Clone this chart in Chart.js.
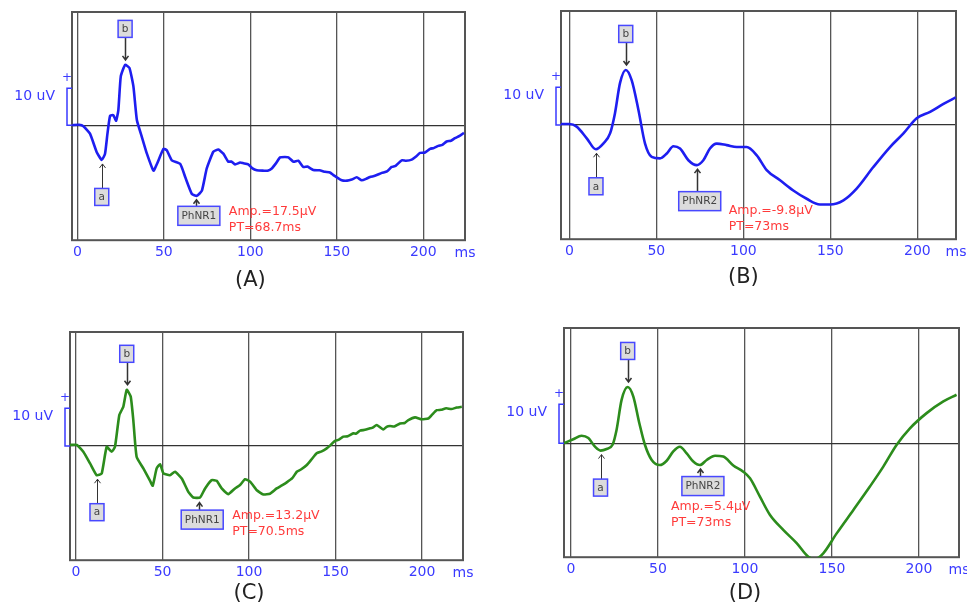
<!DOCTYPE html>
<html>
<head>
<meta charset="utf-8">
<script src="https://cdn.jsdelivr.net/npm/chart.js@4.4.1/dist/chart.umd.min.js"></script>
<style>
  body { margin: 0; background: #fff; }
  .panel { position: absolute; }
</style>
</head>
<body>
<div class="panel" style="left:0;top:0"><canvas id="cA" width="483" height="300"></canvas></div>
<div class="panel" style="left:483px;top:0"><canvas id="cB" width="484" height="300"></canvas></div>
<div class="panel" style="left:0;top:300px"><canvas id="cC" width="483" height="305"></canvas></div>
<div class="panel" style="left:483px;top:300px"><canvas id="cD" width="484" height="305"></canvas></div>
<script>
// x ticks (ms)
const xTicks = [0, 50, 100, 150, 200];

// (A) time (ms) / amplitude (uV)
const tA = [-3, 1, 3.5, 7.3, 11.2, 14.1, 16, 17.4, 18.9, 20.8, 22.4, 23.7, 25.1, 27.6, 30.1, 32.4, 34.4, 37.3, 40.2, 44, 46, 49.8, 51.7, 54.6, 59.5, 62.4, 66.2, 69.1, 72, 74.8, 78.6, 81.5, 84.4, 87.3, 89, 91.2, 94.1, 96, 98.8, 101, 103.7, 107.5, 110, 112.4, 115, 117.2, 120, 122, 124.9, 127.7, 130.6, 133, 136.4, 140, 143.2, 146, 148, 150, 152.8, 156, 158.6, 161.5, 164.4, 167, 169.2, 172, 176, 179, 181.7, 184, 187.5, 190, 193.3, 196, 198.1, 201, 203.9, 206, 208.7, 211, 213.5, 216, 218.3, 221, 223.5];
const vA = [0, 0.1, -0.3, -2.3, -7.3, -9.4, -7.7, -2.3, 2.5, 2.7, 1.2, 4.1, 13.2, 16.3, 15.5, 10.5, 1.4, -3.2, -7.7, -12.3, -10.5, -6.4, -6.8, -9.5, -10.5, -14.1, -18.6, -19.1, -17.7, -11.7, -7.2, -6.6, -7.7, -9.9, -9.8, -10.6, -10.1, -10.3, -10.6, -11.6, -12.2, -12.3, -12.3, -11.7, -10.2, -8.7, -8.6, -8.7, -9.9, -9.6, -11.3, -11.2, -12.1, -12.2, -12.6, -12.8, -13.5, -14.1, -14.9, -15, -14.7, -14.1, -14.9, -14.5, -14, -13.7, -12.9, -12.5, -11.3, -11, -9.5, -9.6, -9.3, -8.4, -7.5, -7.4, -6.4, -6.2, -5.6, -5.3, -4.4, -4.2, -3.5, -2.9, -2.1];

// (B)
const tB = [-4.8, 0, 4.2, 10, 15.3, 19.5, 23.4, 26.2, 29.1, 32.4, 35.8, 39.7, 43.5, 47.3, 52.1, 56, 59.8, 63.6, 68.4, 73.2, 77, 80.8, 84.7, 90.4, 96.2, 101.9, 107.7, 113.4, 121.1, 128.7, 136.4, 144, 149.8, 157.5, 165.1, 174.7, 184.3, 192, 199.6, 207.3, 215, 222];
const vB = [0.3, 0.3, -0.4, -3.5, -6.4, -4.9, -2.2, 3.1, 11.1, 14.6, 11.9, 4, -4.9, -8.4, -8.8, -7.5, -5.6, -6.2, -9.3, -10.6, -9.3, -6.2, -4.9, -5.3, -5.8, -5.8, -8, -11.9, -14.6, -17.3, -19.5, -21, -21, -19.9, -16.8, -11.1, -5.8, -2.2, 1.8, 3.5, 5.6, 7.3];

// (C)
const tC = [-3.5, 0.4, 4.2, 8.1, 11.9, 14.8, 17.7, 20.6, 22.5, 25, 27.3, 29.3, 31.6, 33.1, 35, 38.9, 42.8, 44.3, 46.6, 48.6, 50.5, 54.3, 57.2, 61.1, 64.9, 67.8, 71.7, 74.6, 78.4, 81.3, 84.2, 88, 91.9, 94.8, 97.7, 100.6, 104.5, 108.3, 112.1, 116, 119, 121.8, 125, 127.6, 130, 133.4, 136, 139.1, 142, 144.9, 147, 149.7, 152, 154.5, 157, 160.3, 162, 164.2, 167, 169.9, 171.5, 173.8, 177.6, 179.5, 181.5, 184, 187.3, 190, 192.1, 196, 199.8, 203.6, 206, 208.5, 211, 214, 217, 220, 223];
const vC = [0.3, 0.3, -1.5, -4.6, -7.7, -7.3, -0.2, -1.5, -0.2, 8.2, 10.4, 14.9, 13.1, 6.9, -2.8, -5.9, -9.2, -10.5, -5.9, -4.8, -7.2, -7.7, -6.8, -8.6, -12.1, -13.6, -13.6, -11.2, -9, -9.2, -11.2, -12.7, -11.2, -10.3, -8.8, -9.4, -11.7, -12.8, -12.6, -11.2, -10.4, -9.6, -8.5, -6.8, -6.2, -5, -3.6, -1.9, -1.4, -0.6, 0.2, 1.4, 1.7, 2.5, 2.6, 3.4, 3.3, 4.1, 4.3, 4.7, 4.9, 5.6, 4.4, 5.1, 5.3, 5.2, 6, 6.1, 6.9, 7.6, 7.1, 7.3, 8.4, 9.5, 9.6, 10, 9.8, 10.2, 10.4];

// (D)
const tD = [-4, 1.3, 6.1, 10, 13.8, 17, 20.5, 23.9, 26.2, 29.1, 32.6, 35.8, 39.3, 42.5, 46.4, 51.1, 55, 58.8, 62.6, 66.5, 70.3, 74.1, 78, 82.8, 87.5, 93.3, 99, 102.9, 108.6, 114.4, 122, 129.7, 136.4, 140.2, 145, 152.7, 162.3, 171.8, 179.5, 187.2, 194.8, 204.4, 214, 221.6];
const vD = [0, 1, 1.9, 1.3, -0.9, -1.9, -1.5, -0.4, 3.4, 11.1, 14.4, 12, 5.1, -0.4, -4.3, -5.6, -4.5, -2.1, -0.9, -2.6, -4.7, -5.6, -4.3, -3.2, -3.4, -5.7, -7.3, -9, -13.7, -18.4, -22.2, -25.6, -29.1, -29.7, -28.2, -23.1, -17.1, -11.1, -6, -0.4, 3.8, 7.7, 10.7, 12.4];

// peak markers: names, times (ms), amplitudes (uV)
const markNames = [['a', 'b', 'PhNR1'], ['a', 'b', 'PhNR2'], ['a', 'b', 'PhNR1'], ['a', 'b', 'PhNR2']];
const markT = [[14.1, 27.6, 68.5], [15.3, 32.4, 73.2], [12.1, 29.3, 71.2], [17, 32.6, 74.1]];
const markV = [[-9.4, 16.3, -19.1], [-6.4, 14.6, -10.6], [-7.7, 14.9, -13.9], [-1.9, 14.4, -5.6]];

// PhNR readouts
const ampTexts = ['Amp.=17.5µV', 'Amp.=-9.8µV', 'Amp.=13.2µV', 'Amp.=5.4µV'];
const ptTexts = ['PT=68.7ms', 'PT=73ms', 'PT=70.5ms', 'PT=73ms'];
const panelNames = ['(A)', '(B)', '(C)', '(D)'];

const BLUE_TXT = '#3a3aff';
const RED_TXT = '#ff3b3b';

Chart.defaults.font.family = "'DejaVu Sans', sans-serif";

// layout / style per panel
const panels = [
  { id: 'cA', t: tA, v: vA, color: '#1e1ef0', x: [-3.1, 224.1], y: [-31.1, 30.6], noisy: true,
    pad: { left: 72, top: 12, right: 18, bottom: 35 }, phnrDrop: 20, ampDx: 9, ampDy: -4, ampFromLeft: false, nameGap: 40 },
  { id: 'cB', t: tB, v: vB, color: '#1e1ef0', x: [-4.8, 222.2], y: [-30.2, 30.2], noisy: false,
    pad: { left: 78, top: 11, right: 11, bottom: 36 }, phnrDrop: 36, ampDx: 8, ampDy: 10, ampFromLeft: false, nameGap: 38 },
  { id: 'cC', t: tC, v: vC, color: '#2c8c1c', x: [-3.5, 223.7], y: [-30.2, 30.2], noisy: true,
    pad: { left: 70, top: 32, right: 20, bottom: 20 }, phnrDrop: 21, ampDx: 9, ampDy: -4, ampFromLeft: false, nameGap: 33 },
  { id: 'cD', t: tD, v: vD, color: '#2c8c1c', x: [-4, 223], y: [-29.2, 29.5], noisy: false,
    pad: { left: 81, top: 28, right: 8, bottom: 23 }, phnrDrop: 21, ampDx: -11, ampDy: 21, ampFromLeft: true, nameGap: 36 }
];

function arrow(ctx, x, y1, y2) {
  // line from y1 to y2 with head at y2
  const d = y2 > y1 ? 1 : -1;
  x = Math.round(x) + 0.5;
  ctx.beginPath();
  ctx.moveTo(x, y1);
  ctx.lineTo(x, y2);
  ctx.moveTo(x - 3, y2 - d * 4);
  ctx.lineTo(x, y2);
  ctx.lineTo(x + 3, y2 - d * 4);
  ctx.stroke();
}

function labelBox(ctx, text, cx, cy, w, h) {
  ctx.fillStyle = '#dcdcdc';
  ctx.fillRect(cx - w / 2, cy - h / 2, w, h);
  ctx.strokeStyle = '#4848ff';
  ctx.lineWidth = 1.5;
  ctx.strokeRect(cx - w / 2, cy - h / 2, w, h);
  ctx.fillStyle = '#444';
  ctx.font = '10.5px "DejaVu Sans"';
  ctx.textAlign = 'center';
  ctx.textBaseline = 'middle';
  ctx.fillText(text, cx, cy + 0.5);
}

const ergPlugin = {
  id: 'erg',
  beforeDatasetsDraw(chart) {
    const { ctx, chartArea: ca } = chart;
    ctx.save();
    ctx.strokeStyle = '#555';
    ctx.lineWidth = 2;
    ctx.strokeRect(ca.left, ca.top, ca.width, ca.height);
    ctx.restore();
  },
  afterDatasetsDraw(chart, args, o) {
    const { ctx, chartArea: ca, scales: { x, y } } = chart;
    const i = o.index, p = panels[i];
    ctx.save();

    // 10 uV calibration bracket
    const bx = ca.left - 5;
    const y0 = y.getPixelForValue(0), y10 = y.getPixelForValue(10);
    ctx.strokeStyle = BLUE_TXT;
    ctx.lineWidth = 1.5;
    ctx.beginPath();
    ctx.moveTo(ca.left, y10);
    ctx.lineTo(bx, y10);
    ctx.lineTo(bx, y0);
    ctx.lineTo(ca.left, y0);
    ctx.stroke();
    ctx.fillStyle = BLUE_TXT;
    ctx.font = '12px "DejaVu Sans"';
    ctx.textAlign = 'center';
    ctx.textBaseline = 'middle';
    ctx.fillText('+', bx, y10 - 10);
    ctx.font = '14px "DejaVu Sans"';
    ctx.textAlign = 'right';
    ctx.fillText('10 uV', bx - 12, y10 + 8);

    // ms unit
    ctx.textAlign = 'center';
    ctx.fillText('ms', ca.right, ca.bottom + 13);

    // markers
    ctx.lineWidth = 1;
    markNames[i].forEach((name, k) => {
      const px = x.getPixelForValue(markT[i][k]);
      const py = y.getPixelForValue(markV[i][k]);
      ctx.strokeStyle = '#333';
      if (name === 'b') {
        const cy = py - 36;
        arrow(ctx, px, cy + 8.5, py - 5);
        labelBox(ctx, name, px, cy, 14, 17);
      } else if (name === 'a') {
        const cy = py + 37;
        arrow(ctx, px, cy - 8.5, py + 4);
        labelBox(ctx, name, px, cy, 14, 17);
      } else {
        const cx = px + 3, cy = py + p.phnrDrop, w = 42, h = 19;
        arrow(ctx, px, cy - h / 2, py + 4);
        labelBox(ctx, name, cx, cy, w, h);
        ctx.fillStyle = RED_TXT;
        ctx.font = '12.5px "DejaVu Sans"';
        ctx.textAlign = 'left';
        ctx.textBaseline = 'middle';
        const tx = p.ampFromLeft ? cx - w / 2 + p.ampDx : cx + w / 2 + p.ampDx;
        ctx.fillText(ampTexts[i], tx, cy + p.ampDy);
        ctx.fillText(ptTexts[i], tx, cy + p.ampDy + 16);
      }
    });

    // panel caption
    ctx.fillStyle = '#222';
    ctx.font = '21px "DejaVu Sans"';
    ctx.textAlign = 'center';
    ctx.textBaseline = 'middle';
    ctx.fillText(panelNames[i], x.getPixelForValue(100), ca.bottom + p.nameGap);
    ctx.restore();
  }
};

panels.forEach((p, i) => {
  const line = {
    data: p.t.map((t, k) => ({ x: t, y: p.v[k] })),
    borderColor: p.color,
    borderWidth: 2.6,
    pointRadius: 0,
    fill: false
  };
  // noisy recordings: light smoothing; clean ones: monotone curve
  if (p.noisy) line.tension = 0.15;
  else line.cubicInterpolationMode = 'monotone';

  new Chart(document.getElementById(p.id), {
    type: 'line',
    data: { datasets: [line] },
    options: {
      responsive: false,
      animation: false,
      layout: { padding: p.pad },
      plugins: {
        legend: { display: false },
        tooltip: { enabled: false },
        erg: { index: i }
      },
      scales: {
        x: {
          type: 'linear',
          min: p.x[0],
          max: p.x[1],
          afterBuildTicks: axis => { axis.ticks = xTicks.map(v => ({ value: v })); },
          grid: { color: '#555', lineWidth: 1.3, drawTicks: false },
          border: { display: false },
          ticks: { color: BLUE_TXT, font: { size: 14 }, padding: 4, maxRotation: 0, autoSkip: false }
        },
        y: {
          type: 'linear',
          min: p.y[0],
          max: p.y[1],
          afterBuildTicks: axis => { axis.ticks = [{ value: 0 }]; },
          grid: { color: '#333', lineWidth: 1.3, drawTicks: false },
          border: { display: false },
          ticks: { display: false }
        }
      }
    },
    plugins: [ergPlugin]
  });
});
</script>
</body>
</html>
